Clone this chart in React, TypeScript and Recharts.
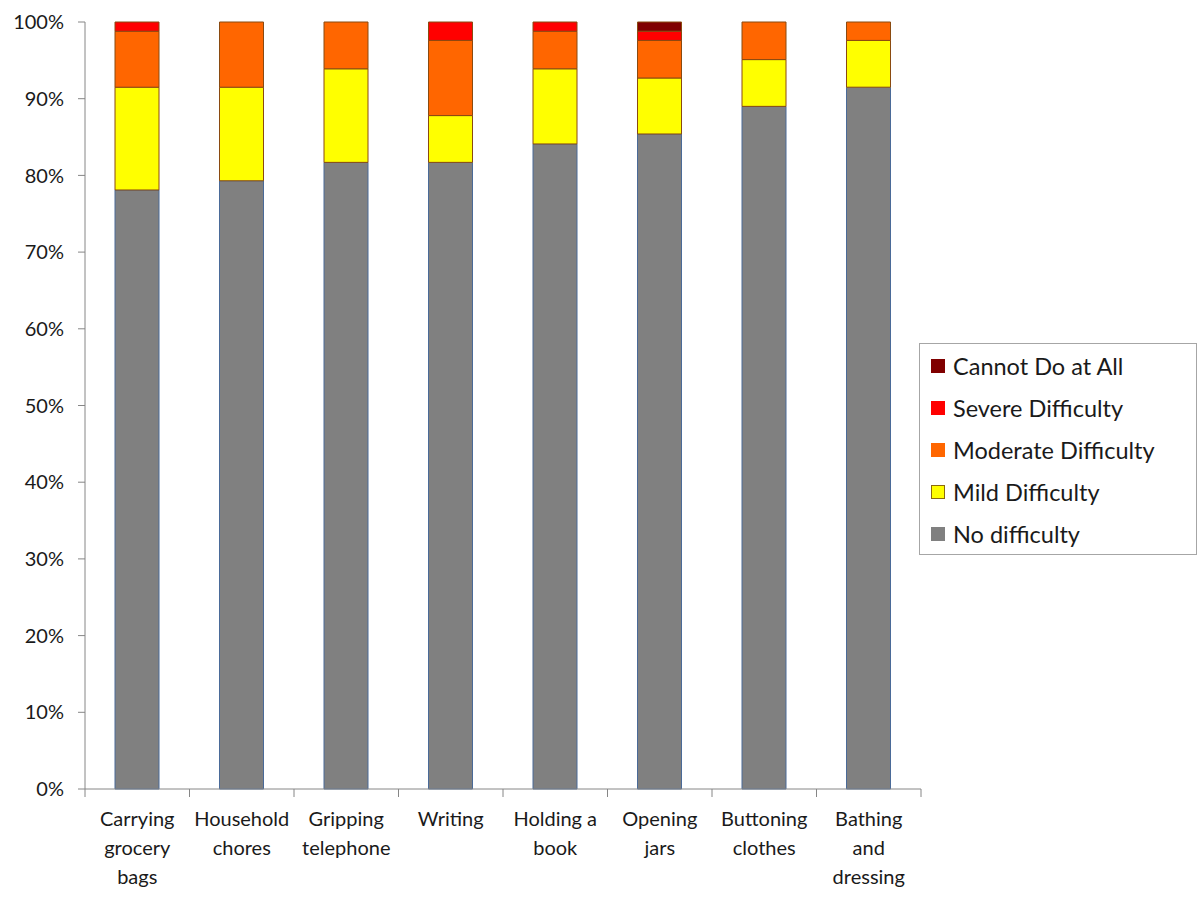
import React from 'react';
import { BarChart, Bar, XAxis, YAxis, Legend } from 'recharts';

const categories = [
  'Carrying grocery bags',
  'Household chores',
  'Gripping telephone',
  'Writing',
  'Holding a book',
  'Opening jars',
  'Buttoning clothes',
  'Bathing and dressing',
];
const tickLines = [
  ['Carrying', 'grocery', 'bags'],
  ['Household', 'chores'],
  ['Gripping', 'telephone'],
  ['Writing'],
  ['Holding a', 'book'],
  ['Opening', 'jars'],
  ['Buttoning', 'clothes'],
  ['Bathing', 'and', 'dressing'],
];
const noDifficulty = [78.1, 79.3, 81.7, 81.7, 84.1, 85.4, 89.0, 91.5];
const mild = [13.4, 12.2, 12.2, 6.1, 9.8, 7.3, 6.1, 6.1];
const moderate = [7.3, 8.5, 6.1, 9.8, 4.9, 4.9, 4.9, 2.4];
const severe = [1.2, 0, 0, 2.4, 1.2, 1.2, 0, 0];
const cannot = [0, 0, 0, 0, 0, 1.2, 0, 0];
const yTicks = [0, 10, 20, 30, 40, 50, 60, 70, 80, 90, 100];

const series = [
  { key: 'none', name: 'No difficulty', fill: '#808080', stroke: '#4a6a98' },
  { key: 'mild', name: 'Mild Difficulty', fill: '#ffff00', stroke: '#8a4a10' },
  { key: 'moderate', name: 'Moderate Difficulty', fill: '#ff6600', stroke: '#8a4a10' },
  { key: 'severe', name: 'Severe Difficulty', fill: '#ff0000', stroke: '#8a4a10' },
  { key: 'cannot', name: 'Cannot Do at All', fill: '#800000', stroke: '#8a4a10' },
];

const data = categories.map((c, i) => ({
  name: c,
  none: noDifficulty[i],
  mild: mild[i],
  moderate: moderate[i],
  severe: severe[i],
  cannot: cannot[i],
}));

const FONT = 'Lato, "Open Sans", sans-serif';
const PLOT_LEFT = 85;
const PLOT_RIGHT = 921;
const BAND = (PLOT_RIGHT - PLOT_LEFT) / categories.length;

function XTick(props: any) {
  const { x, y, index } = props;
  const lines = tickLines[index] || [];
  const isLast = index === categories.length - 1;
  return (
    <g>
      <line x1={x - BAND / 2} x2={x - BAND / 2} y1={y} y2={y + 8} stroke="#868686" />
      {isLast && <line x1={x + BAND / 2} x2={x + BAND / 2} y1={y} y2={y + 8} stroke="#868686" />}
      <text textAnchor="middle" fontFamily={FONT} fontSize={20} fill="#1a1a1a">
        {lines.map((l, k) => (
          <tspan key={k} x={x} y={y + 37 + k * 29}>
            {l}
          </tspan>
        ))}
      </text>
    </g>
  );
}

function LegendBox() {
  const items = [...series].reverse();
  return (
    <div
      style={{
        border: '1px solid #a6a6a6',
        background: '#fff',
        width: 278,
        height: 212,
        boxSizing: 'border-box',
        paddingTop: 1,
        fontFamily: FONT,
      }}
    >
      {items.map((s) => (
        <div key={s.key} style={{ display: 'flex', alignItems: 'center', height: 42 }}>
          <span
            style={{
              width: 14,
              height: 14,
              marginLeft: 11,
              marginRight: 8,
              background: s.fill,
              border: `1px solid ${s.key === 'mild' ? '#8a6a10' : s.fill}`,
              boxSizing: 'border-box',
            }}
          />
          <span style={{ fontSize: 23.5, color: '#1a1a1a', lineHeight: '28px' }}>{s.name}</span>
        </div>
      ))}
    </div>
  );
}

export default function App() {
  return (
    <div style={{ position: 'absolute', left: 0, top: 0, width: 1200, height: 900, background: '#fff' }}>
      <BarChart
        width={1200}
        height={900}
        data={data}
        barSize={44}
        margin={{ top: 22, right: 1200 - PLOT_RIGHT, left: 0, bottom: 0 }}
      >
        <XAxis
          dataKey="name"
          interval={0}
          height={111}
          tickLine={false}
          tickSize={0}
          tickMargin={0}
          axisLine={{ stroke: '#868686' }}
          tick={<XTick />}
        />
        <YAxis
          type="number"
          domain={[0, 100]}
          ticks={yTicks}
          interval={0}
          width={PLOT_LEFT}
          tickSize={7}
          tickMargin={14}
          tickFormatter={(v: number) => `${v}%`}
          axisLine={{ stroke: '#868686' }}
          tickLine={{ stroke: '#868686' }}
          tick={{ fontFamily: FONT, fontSize: 20, fill: '#1a1a1a' }}
        />
        <Legend
          layout="horizontal"
          verticalAlign="middle"
          align="center"
          content={<LegendBox />}
          wrapperStyle={{ left: 919, top: 343, width: 278 }}
        />
        {series.map((s) => (
          <Bar
            key={s.key}
            dataKey={s.key}
            name={s.name}
            stackId="a"
            fill={s.fill}
            stroke={s.stroke}
            strokeWidth={1}
            isAnimationActive={false}
          />
        ))}
      </BarChart>
    </div>
  );
}
